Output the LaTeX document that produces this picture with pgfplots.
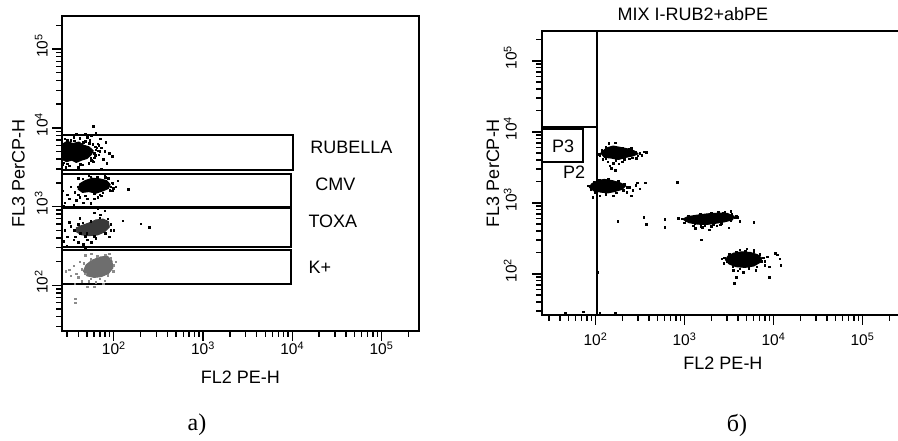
\documentclass[border=0pt]{standalone}
\usepackage{fontspec}
\setmainfont{Liberation Sans}
\newfontfamily\seriffont{Liberation Serif}
\usepackage{pgfplots}
\pgfplotsset{compat=1.18}
\definecolor{toxa}{HTML}{3A3A3A}
\definecolor{kplus}{HTML}{6E6E6E}
\definecolor{kplusl}{HTML}{8C8C8C}
\pgfplotsset{
 facs/.style={
  scale only axis,
  tick pos=left, tick align=outside,
  axis line style={line width=1.8pt},
  major tick length=10pt, minor tick length=6pt,
  xtick={100,1000,10000,100000},
  ytick={100,1000,10000,100000},
  xticklabels={10\textsuperscript{2},10\textsuperscript{3},10\textsuperscript{4},10\textsuperscript{5}},
  yticklabels={10\rlap{\textsuperscript{2}},10\rlap{\textsuperscript{3}},10\rlap{\textsuperscript{4}},10\rlap{\textsuperscript{5}}},
  minor xtick={30,40,50,60,70,80,90,200,300,400,500,600,700,800,900,2000,3000,4000,5000,6000,7000,8000,9000,20000,30000,40000,50000,60000,70000,80000,90000,200000},
  minor ytick={30,40,50,60,70,80,90,200,300,400,500,600,700,800,900,2000,3000,4000,5000,6000,7000,8000,9000,20000,30000,40000,50000,60000,70000,80000,90000,200000},
  tick style={black, line width=1.4pt},
  tick label style={font=\fontsize{15.5}{18}\selectfont, inner sep=0pt},
  yticklabel style={rotate=90, anchor=south},
  xticklabel style={anchor=north},
  label style={font=\fontsize{18}{21}\selectfont},
 },
 mydots/.style={only marks, mark=square*, mark size=0.75pt},
 myblob/.style={line width=1pt, line join=round},
 mygate/.style={line width=2pt, black, no marks},
}
\begin{document}
\begin{tikzpicture}
% ---------------- panel a ----------------
\begin{loglogaxis}[facs, at={(62pt,110pt)}, anchor=south west,
  width=357pt, height=315pt,
  xmin=26.3, xmax=263000, ymin=26.3, ymax=263000,
  xlabel={FL2 PE-H}, ylabel={FL3 PerCP-H},
  xlabel style={at={([yshift=-46pt]axis description cs:0.5,0)}, anchor=center},
  ylabel style={at={([xshift=-43.5pt]axis description cs:0,0.5)}, anchor=center},
  xticklabel shift=1pt, yticklabel shift=4pt]
% gates
\addplot[mygate] coordinates {(26.3,2911) (10190,2911) (10190,8110) (26.3,8110) (26.3,2911)};
\addplot[mygate] coordinates {(26.3,988) (9680,988) (9680,2594) (26.3,2594) (26.3,988)};
\addplot[mygate] coordinates {(26.3,307) (9680,307) (9680,960) (26.3,960) (26.3,307)};
\addplot[mygate] coordinates {(26.3,104) (9680,104) (9680,281) (26.3,281) (26.3,104)};
% RUBELLA
\addplot[myblob, fill=black, draw=black] coordinates {(26.3,3981) (29.5,3715) (33.9,3890) (38.0,3631) (43.7,3890) (50.1,4074) (56.2,4571) (58.9,5129) (52.5,5754) (45.7,6026) (40.7,6607) (34.7,6310) (30.2,6761) (26.3,6166)} -- cycle;
\addplot[mydots, black] coordinates {(63.1,5248) (67.6,4571) (72.4,5623) (79.4,5012) (60.3,4169) (75.9,3981) (89.1,4786) (50.1,7586) (56.2,7943) (63.1,8511) (47.9,8318) (70.8,7244) (41.7,7413) (35.5,7586) (28.2,7244) (31.6,3311) (39.8,3162) (52.5,3548) (66.1,6310) (81.3,6607) (83.2,3548) (58.9,10470) (28.8,3162) (44.7,3388) (95.5,4365) (53.7,6918) (38.0,8318) (72.4,3020) (60.3,4786) (61.7,5754) (57.5,3802) (27.5,3631) (33.1,6918) (45.7,6607) (69.2,5012) (55,4200) (58,6200) (62,4500) (64,5600) (66,5100) (59,3700) (53,6400) (48,6800) (36,6900) (30,7000) (26.8,3400) (30,3500) (42,3450) (56,3900) (68,6000)};
% CMV
\addplot[myblob, fill=black, draw=black] coordinates {(39.8,1660) (44.7,1514) (52.5,1549) (63.1,1479) (75.9,1585) (87.1,1698) (91.2,1905) (83.2,2138) (70.8,2239) (57.5,2291) (47.9,2138) (41.7,1950)} -- cycle;
\addplot[mydots, black] coordinates {(28.2,1122) (31.6,1259) (35.5,1047) (30.2,1413) (38.0,1202) (41.7,1318) (45.7,1122) (50.1,1259) (55.0,1096) (26.9,1585) (33.1,1778) (36.3,1514) (47.9,1380) (60.3,1259) (66.1,1318) (97.7,1995) (105,1778) (95.5,1585) (145,1660) (79.4,2512) (52.5,2512) (39.8,2291) (72.4,1380) (27.5,1023) (43.7,1000) (110,2138) (87.1,2291) (50.1,1585) (39.8,1413) (92,1800) (95,2000) (88,2250) (80,2350) (65,2350) (55,2400) (45,2250) (42,1700) (40,1800) (60,1450) (75,1500) (90,1620) (98,1700) (70,1420)};
% TOXA
\addplot[myblob, fill=toxa, draw=toxa] coordinates {(38.0,479) (43.7,437) (52.5,427) (66.1,437) (79.4,479) (89.1,550) (87.1,646) (75.9,692) (63.1,676) (52.5,617) (43.7,575) (38.0,537)} -- cycle;
\addplot[mydots, black] coordinates {(28.2,501) (30.2,417) (33.1,562) (35.5,380) (39.8,355) (45.7,331) (50.1,380) (56.2,355) (27.5,363) (31.6,631) (41.7,708) (70.8,794) (79.4,891) (66.1,955) (89.1,417) (100,501) (126,661) (200,603) (251,550) (47.9,302) (63.1,398) (37.2,417) (29.5,316) (60.3,832) (40,600) (45,620) (55,650) (70,720) (85,700) (92,600) (92,500) (80,460) (60,420) (48,420) (42,460) (36,500) (50,460)};
% K+
\addplot[myblob, fill=kplus, draw=kplus] coordinates {(45.7,151) (50.1,132) (60.3,126) (72.4,129) (87.1,141) (97.7,166) (95.5,204) (85.1,234) (70.8,229) (57.5,209) (49.0,182)} -- cycle;
\addplot[mydots, kplusl] coordinates {(31.6,158) (35.5,178) (38.0,141) (41.7,200) (39.8,126) (43.7,112) (52.5,112) (63.1,110) (33.1,132) (28.8,151) (47.9,240) (56.2,251) (89.1,251) (105,200) (75.9,105) (50.1,95.5) (60.3,95.5) (36.3,105) (79.4,115) (37.2,67.6) (37.2,60.3) (44,160) (46,190) (55,215) (65,235) (80,245) (92,220) (100,180) (98,150) (85,135) (70,122) (55,122) (48,140)};
\node[font=\fontsize{18}{21}\selectfont, anchor=west] at (axis cs:14600,5710) {RUBELLA};
\node[font=\fontsize{18}{21}\selectfont, anchor=west] at (axis cs:16600,1940) {CMV};
\node[font=\fontsize{18}{21}\selectfont, anchor=west] at (axis cs:13900,656) {TOXA};
\node[font=\fontsize{18}{21}\selectfont, anchor=west] at (axis cs:13900,171) {K+};
\end{loglogaxis}
% ---------------- panel b ----------------
\begin{loglogaxis}[facs, at={(542pt,126pt)}, anchor=south west,
  width=362pt, height=284pt,
  xmin=25.1, xmax=293000, ymin=26.3, ymax=263000,
  xlabel={FL2 PE-H}, ylabel={FL3 PerCP-H},
  xlabel style={at={([yshift=-48pt]axis description cs:0.5,0)}, anchor=center},
  ylabel style={at={([xshift=-49pt]axis description cs:0,0.5)}, anchor=center},
  title={MIX I-RUB2+abPE},
  title style={at={([yshift=4pt]axis description cs:0.417,1)}, anchor=base, inner sep=0pt, font=\fontsize{18}{21}\selectfont},
  xticklabel shift=8pt, yticklabel shift=15pt]
% gates
\addplot[mygate] coordinates {(105,26.3) (105,263000)};
\addplot[mygate] coordinates {(25.1,11800) (105,11800)};
\addplot[mygate] coordinates {(25.1,3760) (72.6,3760) (72.6,10840) (25.1,10840)};
% cluster 1
\addplot[myblob, fill=black, draw=black] coordinates {(115,5012) (126,4365) (151,4266) (182,4074) (219,4365) (263,4571) (302,4898) (275,5370) (229,5754) (191,6026) (158,6310) (132,5888)} -- cycle;
\addplot[mydots, black] coordinates {(316,5012) (347,5248) (372,5129) (331,4677) (158,3631) (182,3548) (145,3311) (200,3802) (138,3802) (166,2884) (151,3090) (141,6918) (166,7079) (112,4571) (240,4169) (288,4266) (251,5888) (110,4800) (118,5500) (130,6100) (170,6200) (200,5900) (240,5700) (280,5200) (300,4600) (260,4300) (210,4100) (170,4000) (130,4200) (120,4100)};
% cluster 2
\addplot[myblob, fill=black, draw=black] coordinates {(85.1,1660) (95.5,1479) (115,1413) (138,1380) (166,1445) (200,1549) (219,1738) (191,1905) (158,2042) (126,2138) (105,2042) (91.2,1862)} -- cycle;
\addplot[mydots, black] coordinates {(240,1660) (263,1514) (282,1778) (316,1585) (295,1905) (363,1905) (832,1950) (93.3,1202) (174,1380) (158,1259) (112,1259) (224,1413) (251,1259) (83,1750) (88,1550) (100,1400) (130,1330) (170,1390) (205,1500) (225,1650) (210,1850) (180,2000) (140,2150) (110,2100) (95,1950)};
% cluster 3
\addplot[myblob, fill=black, draw=black] coordinates {(955,589) (1122,525) (1413,500) (1778,495) (2239,515) (2818,540) (3467,575) (3631,646) (3020,710) (2399,715) (1820,700) (1380,670) (1096,640)} -- cycle;
\addplot[mydots, black] coordinates {(851,603) (1000,525) (1259,479) (1585,457) (1514,470) (1995,468) (2512,490) (1318,437) (1905,417) (1549,302) (2818,740) (3311,759) (3981,631) (4169,550) (6026,537) (3162,447) (2291,479) (178,550) (347,631) (372,501) (603,589) (603,457) (930,600) (1050,560) (1300,520) (1700,480) (2100,500) (2600,520) (3300,560) (3700,620) (3400,690) (2700,730) (2000,720) (1500,690) (1100,660) (3800,660) (2400,750)};
% cluster 4
\addplot[myblob, fill=black, draw=black] coordinates {(2884,158) (3162,138) (3802,126) (4786,123) (6026,129) (7079,145) (7413,166) (6607,186) (5495,200) (4365,204) (3548,195) (3090,178)} -- cycle;
\addplot[mydots, black] coordinates {(2630,162) (2754,141) (7943,151) (8511,174) (10470,195) (10960,186) (11750,162) (12020,132) (7943,132) (8913,126) (3981,110) (4571,105) (3548,112) (6310,112) (3631,74.1) (3802,89.1) (8913,90.2) (5012,224) (4169,219) (6026,214) (2800,170) (3000,150) (3500,128) (4200,118) (5300,120) (6500,125) (7300,150) (7700,170) (7000,190) (6000,205) (4800,212) (3800,205) (3200,190)};
\addplot[mydots, black] coordinates {(45.7,28.2) (72.4,29.5) (112,28.2) (166,28.2) (104,106)};
\node[font=\fontsize{18}{21}\selectfont] at (axis cs:43.3,6310) {P3};
\node[font=\fontsize{18}{21}\selectfont] at (axis cs:57.5,2720) {P2};
\end{loglogaxis}
\node[font=\seriffont\fontsize{24}{28}\selectfont] at (197pt,16pt) {a)};
\node[font=\seriffont\fontsize{24}{28}\selectfont] at (737pt,16pt) {б)};
\pgfresetboundingbox
\useasboundingbox (0,0) rectangle (898pt,441pt);
\end{tikzpicture}
\end{document}
